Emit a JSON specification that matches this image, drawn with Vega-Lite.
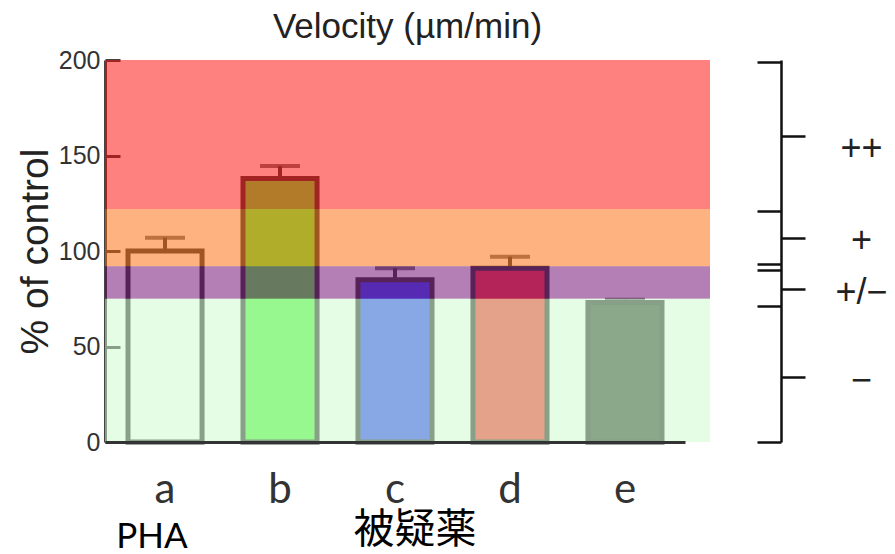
{
  "$schema": "https://vega.github.io/schema/vega-lite/v6.json",
  "width": 605,
  "height": 382,
  "autosize": "none",
  "padding": {"left": 105, "top": 60, "right": 185, "bottom": 112},
  "background": "white",
  "config": {"view": {"stroke": null}},
  "title": {"text": "Velocity (µm/min)", "font": "Liberation Sans", "fontSize": 35, "fontWeight": "normal", "color": "#222", "anchor": "middle", "frame": "group", "baseline": "alphabetic", "offset": 20, "dy": 45},
  "datasets": {
    "bars": [
      {"group": "a", "value": 100, "err": 107},
      {"group": "b", "value": 138, "err": 144.5},
      {"group": "c", "value": 85, "err": 91},
      {"group": "d", "value": 91, "err": 97},
      {"group": "e", "value": 73, "err": 74.5}
    ],
    "bands": [
      {"level": "++", "lo": 122, "hi": 200},
      {"level": "+", "lo": 92, "hi": 122},
      {"level": "+/−", "lo": 75, "hi": 92},
      {"level": "−", "lo": 0, "hi": 75}
    ]
  },
  "layer": [
    {
      "data": {"name": "bars"},
      "mark": {"type": "bar", "stroke": "#444", "strokeWidth": 5},
      "encoding": {
        "x": {"field": "group", "type": "nominal", "sort": null,
          "scale": {"range": [0, 580], "paddingInner": 0.356, "paddingOuter": 0.2},
          "axis": {"orient": "bottom", "domainColor": "#333", "domainWidth": 3, "ticks": false, "tickSize": 0,
            "labelFont": "Lato", "labelFontSize": 42, "labelColor": "#333", "labelPadding": 60, "labelBaseline": "alphabetic",
            "labelAngle": 0, "title": null, "zindex": 1}},
        "y": {"field": "value", "type": "quantitative", "scale": {"domain": [0, 200], "nice": false},
          "axis": {"orient": "left", "values": [0, 50, 100, 150, 200], "domainColor": "#444", "domainWidth": 3,
            "tickColor": "#444", "tickWidth": 3, "tickSize": -15, "labelFont": "Liberation Sans", "labelFontSize": 25,
            "labelColor": "#333", "labelPadding": 20, "title": "% of control", "titleFont": "Liberation Sans",
            "titleFontSize": 39, "titleFontWeight": "normal", "titleColor": "#222", "titlePadding": 3, "grid": false}},
        "fill": {"field": "group", "type": "nominal", "legend": null,
          "scale": {"domain": ["a", "b", "c", "d", "e"], "range": ["#ffffff", "#65f555", "#4555ff", "#ff4848", "#4a554a"]}}
      }
    },
    {
      "data": {"name": "bars"},
      "mark": {"type": "rule", "color": "#444", "strokeWidth": 4},
      "encoding": {
        "x": {"field": "group", "type": "nominal", "sort": null,
          "axis": {"orient": "bottom", "domain": false, "ticks": false, "labelAngle": 0,
            "labelExpr": "datum.value == 'a' ? 'PHA' : datum.value == 'c' ? '被疑薬' : ''",
            "labelFont": {"condition": {"test": "datum.value == 'c'", "value": "Noto Sans CJK JP"}, "value": "Lato"},
            "labelFontSize": {"condition": {"test": "datum.value == 'c'", "value": 41}, "value": 35},
            "labelColor": "#000", "labelBaseline": "middle",
            "labelPadding": {"condition": {"test": "datum.value == 'c'", "value": 88}, "value": 94},
            "labelOffset": {"condition": {"test": "datum.value == 'c'", "value": 20}, "value": -13},
            "labelOverlap": false, "labelBound": false, "title": null}},
        "y": {"field": "value", "type": "quantitative", "axis": null},
        "y2": {"field": "err"}
      }
    },
    {
      "data": {"name": "bars"},
      "mark": {"type": "tick", "color": "#444", "thickness": 4, "size": 40, "orient": "horizontal"},
      "encoding": {
        "x": {"field": "group", "type": "nominal", "sort": null, "axis": null},
        "y": {"field": "err", "type": "quantitative",
          "axis": {"orient": "right", "offset": 71, "values": [34, 80, 107, 160], "domain": false,
            "tickColor": "#111", "tickWidth": 2.5, "tickSize": 24,
            "labelExpr": "datum.value == 160 ? '++' : datum.value == 107 ? '+' : datum.value == 80 ? '+/−' : '−'",
            "labelAlign": "center", "labelPadding": 56, "labelFont": "Liberation Sans", "labelFontSize": 36,
            "labelColor": "#222", "labelBaseline": "middle",
            "labelOffset": {"condition": {"test": "datum.value == 160", "value": 12}, "value": 3},
            "labelOverlap": false, "labelBound": false, "labelFlush": false, "title": null, "grid": false}}
      }
    },
    {
      "data": {"name": "bands"},
      "mark": {"type": "rect", "opacity": 0.5},
      "encoding": {
        "y": {"field": "lo", "type": "quantitative",
          "axis": {"orient": "right", "offset": 71, "values": [0, 71, 90, 93, 121, 199],
            "domainColor": "#111", "domainWidth": 2.5, "tickColor": "#111", "tickWidth": 2.5, "tickSize": -24,
            "labels": false, "title": null, "grid": false}},
        "y2": {"field": "hi"},
        "color": {"field": "level", "type": "nominal", "legend": null,
          "scale": {"domain": ["++", "+", "+/−", "−"], "range": ["#fd0100", "#fb6500", "#690069", "#cbfbcb"]}}
      }
    }
  ],
  "resolve": {"axis": {"x": "independent", "y": "independent"}, "scale": {"color": "independent", "fill": "independent"}}
}
